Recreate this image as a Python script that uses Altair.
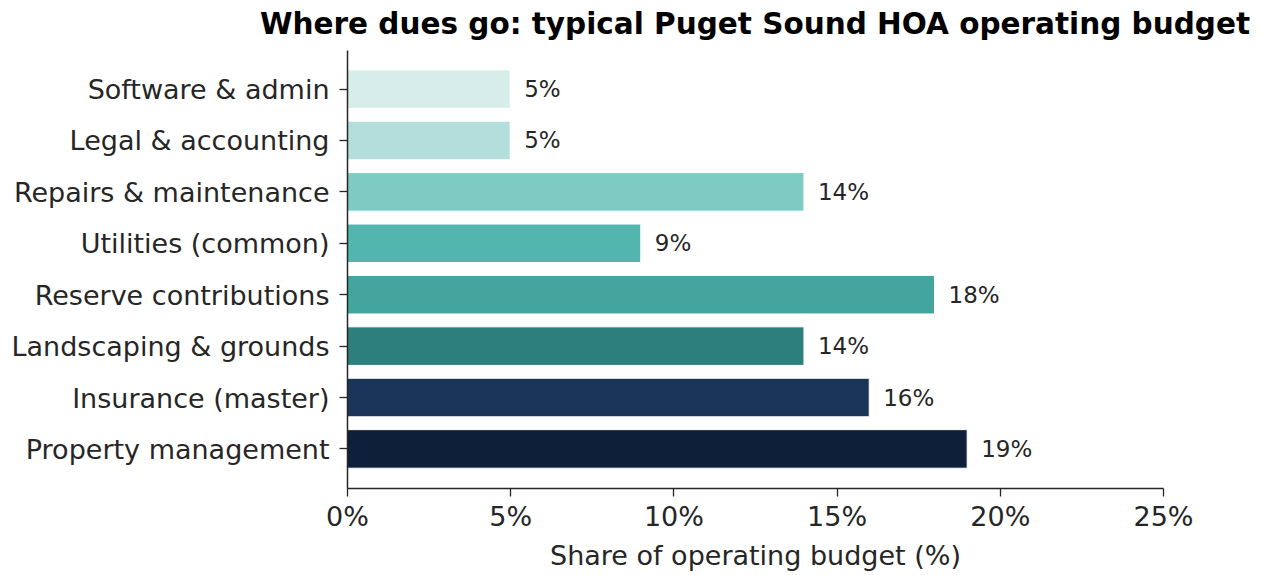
import altair as alt
import pandas as pd

categories = [
    "Software & admin",
    "Legal & accounting",
    "Repairs & maintenance",
    "Utilities (common)",
    "Reserve contributions",
    "Landscaping & grounds",
    "Insurance (master)",
    "Property management",
]
shares = [5, 5, 14, 9, 18, 14, 16, 19]
labels = ["5%", "5%", "14%", "9%", "18%", "14%", "16%", "19%"]
colors = ["#d6ede9", "#b3dedb", "#7ecbc4", "#52b5ae", "#43a59d", "#2c7f7a", "#1b3559", "#0e1f3a"]
x_ticks = [0, 5, 10, 15, 20, 25]

df = pd.DataFrame({"category": categories, "share": shares, "label": labels})

FONT = "DejaVu Sans"
TXT = "#262626"

y_enc = alt.Y(
    "category:N",
    sort=categories,
    scale=alt.Scale(paddingInner=0.25, paddingOuter=0.385),
    axis=alt.Axis(
        title=None,
        labelFont=FONT,
        labelFontSize=27,
        labelColor=TXT,
        labelPadding=10,
        labelLimit=1000,
        labelOffset=2,
        tickSize=8,
        tickColor=TXT,
        tickWidth=1.3,
        domainColor=TXT,
        domainWidth=1.5,
        grid=False,
        zindex=1,
    ),
)

x_enc = alt.X(
    "share:Q",
    scale=alt.Scale(domain=[0, 25], nice=False),
    axis=alt.Axis(
        values=x_ticks,
        labelExpr="datum.value + '%'",
        title="Share of operating budget (%)",
        titleFont=FONT,
        titleFontSize=27,
        titleFontWeight="normal",
        titleColor=TXT,
        titlePadding=13,
        labelFont=FONT,
        labelFontSize=27,
        labelColor=TXT,
        labelPadding=8,
        tickSize=8,
        tickColor=TXT,
        tickWidth=1.3,
        domainColor=TXT,
        domainWidth=1.5,
        grid=False,
        labelFlush=False,
        zindex=1,
    ),
)

bars = alt.Chart(df).mark_bar(stroke="white", strokeWidth=1).encode(
    x=x_enc,
    y=y_enc,
    color=alt.Color("category:N", scale=alt.Scale(domain=categories, range=colors), legend=None),
)

text = alt.Chart(df).mark_text(
    align="left", baseline="middle", dx=14, dy=1, font=FONT, fontSize=23, color=TXT
).encode(
    x=alt.X("share:Q"),
    y=alt.Y("category:N", sort=categories),
    text="label:N",
)

chart = (
    alt.layer(bars, text)
    .properties(
        width=816,
        height=438,
        background="white",
        title=alt.TitleParams(
            "Where dues go: typical Puget Sound HOA operating budget",
            font=FONT,
            fontSize=29.5,
            fontWeight="bold",
            color="#000000",
            anchor="middle",
            offset=10,
        ),
        autosize=alt.AutoSizeParams(type="none"),
        padding={"left": 347, "top": 50, "right": 99, "bottom": 87},
    )
    .configure_view(strokeWidth=0, stroke=None)
)

chart.save("out.html", embed_options={"renderer": "svg", "actions": False})
